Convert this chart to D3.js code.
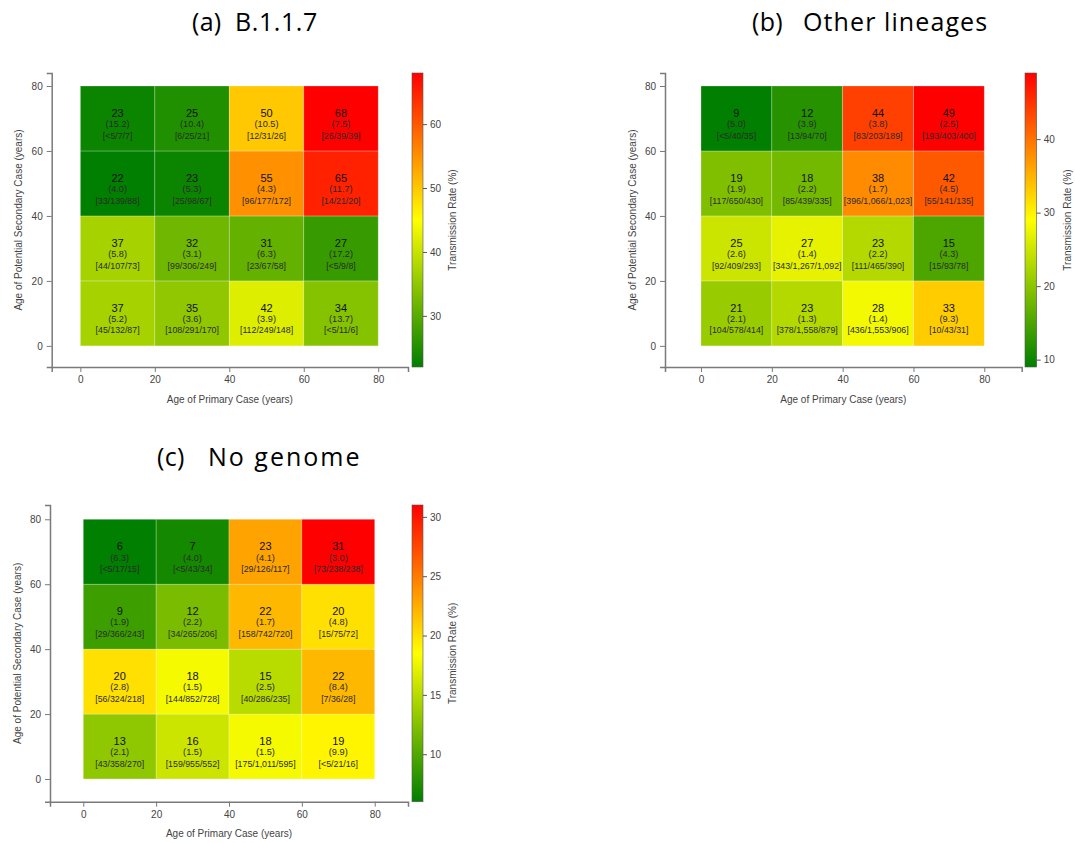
<!DOCTYPE html>
<html>
<head>
<meta charset="utf-8">
<script src="https://cdn.jsdelivr.net/npm/d3@7"></script>
<style>
  body { margin: 0; background: #fff; }
  svg { display: block; font-family: 'Liberation Sans', Arial, sans-serif; }
</style>
</head>
<body>
<svg id="chart" width="1075" height="843"></svg>
<script>
// age bands (lower bound), rows run from the 0-20 band upwards
const ageBands = [0, 20, 40, 60];
const bandWidth = 20;
const ageTicks = [0, 20, 40, 60, 80];

// (a) B.1.1.7
const b117Rate = [
  [37, 35, 42, 34],
  [37, 32, 31, 27],
  [22, 23, 55, 65],
  [23, 25, 50, 68]
];
const b117Se = [
  ['5.2', '3.6', '3.9', '13.7'],
  ['5.8', '3.1', '6.3', '17.2'],
  ['4.0', '5.3', '4.3', '11.7'],
  ['15.2', '10.4', '10.5', '7.5']
];
const b117Counts = [
  ['45/132/87', '108/291/170', '112/249/148', '<5/11/6'],
  ['44/107/73', '99/306/249', '23/67/58', '<5/9/8'],
  ['33/139/88', '25/98/67', '96/177/172', '14/21/20'],
  ['<5/7/7', '6/25/21', '12/31/26', '26/39/39']
];

// (b) Other lineages
const otherRate = [
  [21, 23, 28, 33],
  [25, 27, 23, 15],
  [19, 18, 38, 42],
  [9, 12, 44, 49]
];
const otherSe = [
  ['2.1', '1.3', '1.4', '9.3'],
  ['2.6', '1.4', '2.2', '4.3'],
  ['1.9', '2.2', '1.7', '4.5'],
  ['5.0', '3.9', '3.8', '2.5']
];
const otherCounts = [
  ['104/578/414', '378/1,558/879', '436/1,553/906', '10/43/31'],
  ['92/409/293', '343/1,267/1,092', '111/465/390', '15/93/78'],
  ['117/650/430', '85/439/335', '396/1,066/1,023', '55/141/135'],
  ['<5/40/35', '13/94/70', '83/203/189', '193/403/400']
];

// (c) No genome
const noGenomeRate = [
  [13, 16, 18, 19],
  [20, 18, 15, 22],
  [9, 12, 22, 20],
  [6, 7, 23, 31]
];
const noGenomeSe = [
  ['2.1', '1.5', '1.5', '9.9'],
  ['2.8', '1.5', '2.5', '8.4'],
  ['1.9', '2.2', '1.7', '4.8'],
  ['6.3', '4.0', '4.1', '3.0']
];
const noGenomeCounts = [
  ['43/358/270', '159/955/552', '175/1,011/595', '<5/21/16'],
  ['56/324/218', '144/852/728', '40/286/235', '7/36/28'],
  ['29/366/243', '34/265/206', '158/742/720', '15/75/72'],
  ['<5/17/15', '<5/43/34', '29/126/117', '73/238/238']
];

const axisColor = '#7a7a7a';
const labelColor = '#444';

class HeatmapPanel {
  constructor(svg, layout) {
    this.svg = svg;
    this.layout = layout;
    this.g = svg.append('g').attr('class', 'panel');
  }

  draw(rates, ses, counts) {
    const L = this.layout;
    const g = this.g;

    const x = d3.scaleLinear().domain(L.xDomain).range([L.left, L.right]);
    const y = d3.scaleLinear().domain(L.yDomain).range([L.bottom, L.top]);

    const flat = [];
    rates.forEach((row, i) => row.forEach((v, j) => {
      flat.push({x: ageBands[j], y: ageBands[i], rate: v, se: ses[i][j], n: counts[i][j]});
    }));

    const [lo, hi] = d3.extent(flat, d => d.rate);
    const color = d3.scaleLinear()
      .domain([lo, (lo + hi) / 2, hi])
      .range(['#007f00', '#ffff00', '#ff0000']);

    // title: letter and name placed separately (wide gap in the original)
    const title = this.svg.append('g')
      .attr('font-family', "'Open Sans', 'Noto Sans', sans-serif")
      .attr('font-size', 25)
      .attr('fill', '#000');
    title.append('text')
      .attr('x', L.titleX[0])
      .attr('y', L.titleY)
      .attr('letter-spacing', 0.3)
      .text(L.title[0]);
    title.append('text')
      .attr('x', L.titleX[1])
      .attr('y', L.titleY)
      .attr('letter-spacing', L.titleSpacing)
      .text(L.title[1]);

    // cells
    const cells = g.selectAll('.cell')
      .data(flat)
      .enter()
      .append('g')
      .attr('class', 'cell');

    cells.append('rect')
      .attr('x', d => x(d.x))
      .attr('y', d => y(d.y + bandWidth))
      .attr('width', d => x(d.x + bandWidth) - x(d.x))
      .attr('height', d => y(d.y) - y(d.y + bandWidth))
      .attr('fill', d => color(d.rate))
      .attr('stroke', 'rgba(255,255,255,0.3)')
      .attr('stroke-width', 0.8);

    const cx = d => x(d.x + bandWidth / 2);
    const cy = d => y(d.y + bandWidth / 2);

    cells.append('text')
      .attr('x', cx)
      .attr('y', d => cy(d) - 5.4)
      .attr('dy', '0.35em')
      .attr('text-anchor', 'middle')
      .attr('font-size', 11)
      .attr('fill', '#111')
      .text(d => d.rate);

    cells.append('text')
      .attr('x', cx)
      .attr('y', d => cy(d) + 5.6)
      .attr('dy', '0.35em')
      .attr('text-anchor', 'middle')
      .attr('font-size', 9.2)
      .attr('fill', '#2a2a2a')
      .text(d => `(${d.se})`);

    cells.append('text')
      .attr('x', cx)
      .attr('y', d => cy(d) + 17)
      .attr('dy', '0.35em')
      .attr('text-anchor', 'middle')
      .attr('font-size', 8.8)
      .attr('fill', '#2a2a2a')
      .text(d => `[${d.n}]`);

    // axes
    const xAxis = g.append('g')
      .attr('transform', `translate(0, ${L.bottom})`)
      .call(d3.axisBottom(x).tickValues(ageTicks).tickSizeOuter(0).tickSize(5).tickPadding(4));
    const yAxis = g.append('g')
      .attr('transform', `translate(${L.left}, 0)`)
      .call(d3.axisLeft(y).tickValues(ageTicks).tickSizeOuter(0).tickSize(5).tickPadding(4));

    [xAxis, yAxis].forEach(ax => {
      ax.select('.domain').attr('stroke', axisColor).attr('stroke-width', 1.5);
      ax.selectAll('.tick line').attr('stroke', axisColor);
      ax.selectAll('.tick text')
        .attr('fill', labelColor)
        .attr('font-size', 10)
        .attr('font-family', "'Liberation Sans', Arial, sans-serif");
    });

    g.append('text')
      .attr('x', (L.left + L.right) / 2)
      .attr('y', L.bottom + 32)
      .attr('dy', '0.35em')
      .attr('text-anchor', 'middle')
      .attr('font-size', 10)
      .attr('fill', labelColor)
      .text('Age of Primary Case (years)');

    g.append('text')
      .attr('transform', `translate(${L.yTitleX}, ${(L.top + L.bottom) / 2}) rotate(-90)`)
      .attr('dy', '0.35em')
      .attr('text-anchor', 'middle')
      .attr('font-size', 10)
      .attr('fill', labelColor)
      .text('Age of Potential Secondary Case (years)');

    // colour bar
    const barScale = d3.scaleLinear().domain([lo, hi]).range([L.bottom, L.top]);
    const gradId = `grad-${L.id}`;
    const grad = this.svg.append('defs')
      .append('linearGradient')
      .attr('id', gradId)
      .attr('x1', 0).attr('y1', 1).attr('x2', 0).attr('y2', 0);
    d3.range(0, 1.0001, 0.05).forEach(t => {
      grad.append('stop')
        .attr('offset', t)
        .attr('stop-color', color(lo + t * (hi - lo)));
    });

    g.append('rect')
      .attr('x', L.barX)
      .attr('y', L.top)
      .attr('width', L.barW)
      .attr('height', L.bottom - L.top)
      .attr('fill', `url(#${gradId})`)
      .attr('stroke', '#555')
      .attr('stroke-width', 0.6);

    const barAxis = g.append('g')
      .attr('transform', `translate(${L.barX + L.barW}, 0)`)
      .call(d3.axisRight(barScale).ticks(5).tickSize(4).tickPadding(3));
    barAxis.select('.domain').remove();
    barAxis.selectAll('.tick line').attr('stroke', '#555');
    barAxis.selectAll('.tick text')
      .attr('fill', labelColor)
      .attr('font-size', 10)
      .attr('font-family', "'Liberation Sans', Arial, sans-serif");

    g.append('text')
      .attr('transform', `translate(${L.barTitleX}, ${(L.top + L.bottom) / 2}) rotate(-90)`)
      .attr('dy', '0.35em')
      .attr('text-anchor', 'middle')
      .attr('font-size', 10)
      .attr('fill', labelColor)
      .text('Transmission Rate (%)');
  }
}

const svg = d3.select('#chart');

new HeatmapPanel(svg, {
  id: 'a', title: ['(a)', 'B.1.1.7'], titleX: [192, 235], titleY: 31, titleSpacing: 0.6,
  left: 51.7, right: 408, top: 73, bottom: 367,
  xDomain: [-7.7, 88], yDomain: [-6.5, 84],
  barX: 412, barW: 11, yTitleX: 18, barTitleX: 452
}).draw(b117Rate, b117Se, b117Counts);

new HeatmapPanel(svg, {
  id: 'b', title: ['(b)', 'Other lineages'], titleX: [752, 803], titleY: 31, titleSpacing: 1.1,
  left: 665, right: 1021.7, top: 73, bottom: 367,
  xDomain: [-10.17, 90.57], yDomain: [-6.5, 84],
  barX: 1025, barW: 11.7, yTitleX: 632, barTitleX: 1067
}).draw(otherRate, otherSe, otherCounts);

new HeatmapPanel(svg, {
  id: 'c', title: ['(c)', 'No genome'], titleX: [157, 208], titleY: 466, titleSpacing: 2,
  left: 50, right: 408, top: 505, bottom: 801.7,
  xDomain: [-9.14, 89.14], yDomain: [-7.0, 84.4],
  barX: 412, barW: 11, yTitleX: 17, barTitleX: 452
}).draw(noGenomeRate, noGenomeSe, noGenomeCounts);
</script>
</body>
</html>
